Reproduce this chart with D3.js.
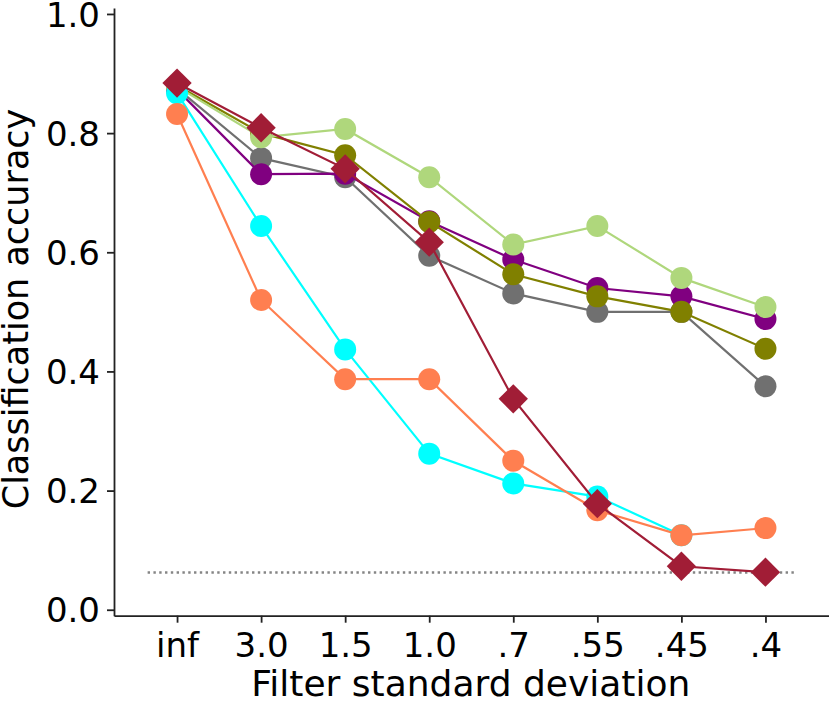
<!DOCTYPE html>
<html>
<head>
<meta charset="utf-8">
<script src="https://cdn.jsdelivr.net/npm/d3@7/dist/d3.min.js"></script>
<style>
  html, body { margin: 0; padding: 0; background: #fff; }
  svg { display: block; font-family: "DejaVu Sans", sans-serif; }
</style>
</head>
<body>
<svg id="chart" width="830" height="701"></svg>
<script>
// ---- data ----
const categories = ["inf", "3.0", "1.5", "1.0", ".7", ".55", ".45", ".4"];
const yTicks = [0.0, 0.2, 0.4, 0.6, 0.8, 1.0];
const chanceLevel = 0.0625;

const grayValues   = [0.875, 0.758, 0.726, 0.594, 0.531, 0.500, 0.500, 0.375];
const purpleValues = [0.873, 0.731, 0.732, 0.652, 0.588, 0.540, 0.526, 0.488];
const oliveValues  = [0.880, 0.800, 0.763, 0.651, 0.563, 0.526, 0.500, 0.438];
const greenValues  = [0.878, 0.793, 0.807, 0.726, 0.613, 0.644, 0.557, 0.508];
const cyanValues   = [0.867, 0.644, 0.437, 0.262, 0.212, 0.190, 0.125, null];
const orangeValues = [0.832, 0.520, 0.387, 0.387, 0.250, 0.167, 0.125, 0.137];
const crimsonValues= [0.884, 0.809, 0.740, 0.617, 0.354, 0.178, 0.073, 0.063];

const series = [
  { values: grayValues,    color: "#707070", marker: "circle" },
  { values: purpleValues,  color: "#800080", marker: "circle" },
  { values: oliveValues,   color: "#808000", marker: "circle" },
  { values: greenValues,   color: "#afd77c", marker: "circle" },
  { values: cyanValues,    color: "#00ffff", marker: "circle" },
  { values: orangeValues,  color: "#ff7f50", marker: "circle" },
  { values: crimsonValues, color: "#a11d36", marker: "diamond" }
];

// ---- layout ----
const svg = d3.select("#chart");
const mLeft = 114, mRight = 828.5, mTop = 8, mBottom = 615.7;

const x = d3.scaleLinear().domain([-0.75, 7.75]).range([mLeft, mRight]);
const y = d3.scaleLinear().domain([-0.01, 1.01]).range([mBottom, mTop]);

const axisColor = "#222";
const tickFont = 34;

// chance line
svg.append("line")
  .attr("x1", x(-0.35)).attr("x2", x(7.35))
  .attr("y1", y(chanceLevel)).attr("y2", y(chanceLevel))
  .attr("stroke", "#858585").attr("stroke-width", 2.4)
  .attr("stroke-dasharray", "2.4,3.4");

// series
const line = d3.line()
  .defined(d => d != null)
  .x((d, i) => x(i))
  .y(d => y(d));

const diamond = d3.symbol().type(d3.symbolSquare).size(430);

series.forEach(s => {
  const g = svg.append("g");
  g.append("path")
    .attr("d", line(s.values))
    .attr("fill", "none")
    .attr("stroke", s.color)
    .attr("stroke-width", 2.2);
  const pts = s.values.map((v, i) => ({ v, i })).filter(d => d.v != null);
  if (s.marker === "circle") {
    g.selectAll("circle").data(pts).enter().append("circle")
      .attr("cx", d => x(d.i)).attr("cy", d => y(d.v))
      .attr("r", 11).attr("fill", s.color);
  } else {
    g.selectAll("path.m").data(pts).enter().append("path")
      .attr("class", "m")
      .attr("d", diamond)
      .attr("transform", d => `translate(${x(d.i)},${y(d.v)}) rotate(45)`)
      .attr("fill", s.color);
  }
});

// axes
const yAxis = d3.axisLeft(y)
  .tickValues(yTicks)
  .tickFormat(d3.format(".1f"))
  .tickSize(7).tickSizeOuter(0).tickPadding(7);
const yg = svg.append("g").attr("transform", `translate(${mLeft},0)`).call(yAxis);

const xAxis = d3.axisBottom(x)
  .tickValues(d3.range(categories.length))
  .tickFormat(i => categories[i])
  .tickSize(7).tickSizeOuter(0).tickPadding(8);
const xg = svg.append("g").attr("transform", `translate(0,${mBottom})`).call(xAxis);

[yg, xg].forEach(g => {
  g.select(".domain").attr("stroke", axisColor).attr("stroke-width", 1.8);
  g.selectAll(".tick line").attr("stroke", axisColor).attr("stroke-width", 1.8);
  g.selectAll(".tick text")
    .attr("fill", "#000")
    .style("font-family", "'DejaVu Sans', sans-serif")
    .style("font-size", tickFont + "px");
});
yg.selectAll(".tick text").attr("dy", "0.36em");
xg.selectAll(".tick text").attr("dy", "0.76em");

// axis labels
svg.append("text")
  .attr("x", (mLeft + mRight) / 2 - 0.5).attr("y", 696)
  .attr("text-anchor", "middle")
  .style("font-size", "36px")
  .attr("fill", "#000")
  .text("Filter standard deviation");

svg.append("text")
  .attr("transform", `translate(28,309) rotate(-90)`)
  .attr("text-anchor", "middle")
  .style("font-size", "35px")
  .attr("fill", "#000")
  .text("Classification accuracy");
</script>
</body>
</html>
